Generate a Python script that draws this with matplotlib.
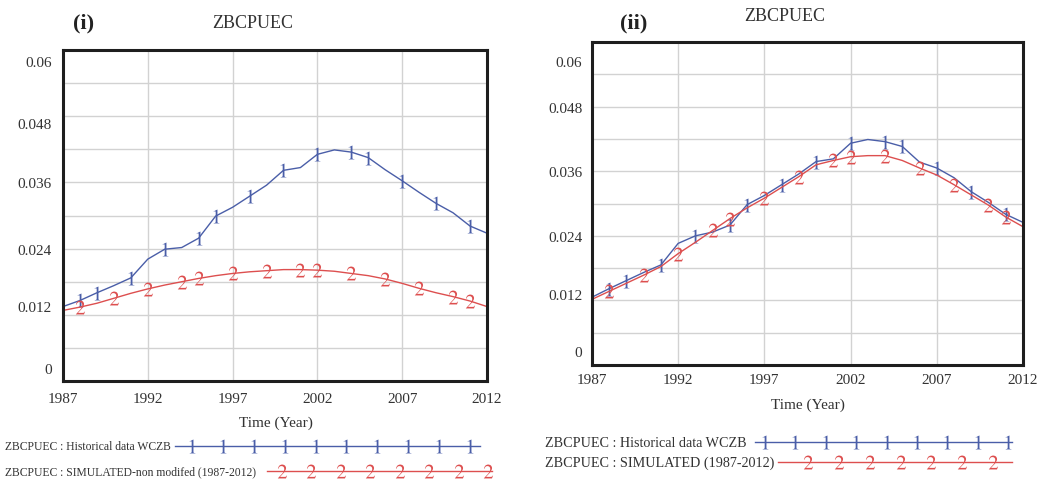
import numpy as np
import matplotlib
matplotlib.use("Agg")
import matplotlib.pyplot as plt
from matplotlib.lines import Line2D
from matplotlib.transforms import ScaledTranslation

plt.rcParams['font.family'] = ['Liberation Serif', 'DejaVu Serif']
plt.rcParams['mathtext.fontset'] = 'stix'

years = np.arange(1987, 2013)

# panel (i)
hist_i = [0.0135, 0.0146, 0.0160, 0.0173, 0.0187, 0.0221, 0.0239, 0.0242, 0.0259, 0.0299,
          0.0315, 0.0335, 0.0355, 0.0382, 0.0387, 0.0411, 0.0419, 0.0415, 0.0405, 0.0383,
          0.0363, 0.0342, 0.0322, 0.0305, 0.0281, 0.0268]
sim_i = [0.0128, 0.0134, 0.0141, 0.0150, 0.0159, 0.0167, 0.0174, 0.0180, 0.0186, 0.0191,
         0.0195, 0.0198, 0.0200, 0.0202, 0.0202, 0.0201, 0.0199, 0.0195, 0.0191, 0.0185,
         0.0177, 0.0168, 0.0160, 0.0153, 0.0145, 0.0135]

# panel (ii)
hist_ii = [0.0126, 0.0142, 0.0157, 0.0172, 0.0186, 0.0226, 0.0240, 0.0247, 0.0260, 0.0298,
           0.0315, 0.0335, 0.0355, 0.0378, 0.0383, 0.0412, 0.0419, 0.0415, 0.0406, 0.0377,
           0.0366, 0.0348, 0.0322, 0.0302, 0.0280, 0.0265]
sim_ii = [0.0122, 0.0137, 0.0152, 0.0167, 0.0183, 0.0207, 0.0228, 0.0250, 0.0272, 0.0292,
          0.0310, 0.0330, 0.0350, 0.0372, 0.0380, 0.0387, 0.0389, 0.0389, 0.0380, 0.0366,
          0.0353, 0.0335, 0.0316, 0.0297, 0.0275, 0.0257]

marks_1 = [1, 2, 4, 6, 8, 9, 11, 13, 15, 17, 18, 20, 22, 24]
marks_2 = [1, 3, 5, 7, 8, 10, 12, 14, 15, 17, 19, 21, 23, 24]

y_ticks = [0.06, 0.048, 0.036, 0.024, 0.012, 0]
y_labels = ['0.06', '0.048', '0.036', '0.024', '0.012', '0']
x_ticks = [1987, 1992, 1997, 2002, 2007, 2012]

blue = '#4a5ea8'
red = '#dd4f4f'
frame = '#1e1e1e'

fig = plt.figure(figsize=(10.52, 4.81), dpi=100)


def panel(rect, hist, sim, tick_fs, xpad, ypad, label_shift):
    ax = fig.add_axes(rect)
    ax.plot(years, hist, color=blue, lw=1.0, marker='$1$', markersize=10,
            markevery=marks_1, markeredgewidth=0)
    ax.plot(years, sim, color=red, lw=1.0, marker='$2$', markersize=10,
            markevery=marks_2, markeredgewidth=0)
    ax.set_xlim(1987, 2012)
    ax.set_ylim(0, 0.06)
    ax.set_xticks(x_ticks)
    ax.set_yticks(y_ticks)
    ax.set_yticklabels(y_labels)
    ax.set_yticks(np.arange(0, 0.0601, 0.006), minor=True)
    ax.grid(True, which='both', color='#d2d2d2', lw=1.0)
    ax.tick_params(which='both', length=0)
    ax.tick_params(axis='x', labelsize=tick_fs, pad=xpad, colors='#333333')
    ax.tick_params(axis='y', labelsize=tick_fs, pad=ypad, colors='#333333')
    # the labels sit a little off the grid lines in the original
    for lab, dy in zip(ax.get_yticklabels(), label_shift):
        lab.set_transform(lab.get_transform() + ScaledTranslation(0, -dy / 100.0, fig.dpi_scale_trans))
    for s in ax.spines.values():
        s.set_color(frame)
        s.set_linewidth(2.2)
    ax.set_axisbelow(True)
    return ax


panel([0.0599, 0.2058, 0.403, 0.688], hist_i, sim_i, 11, 8, 8, [11, 7, 0, 0, -9, -13])
panel([0.5627, 0.239, 0.4097, 0.6715], hist_ii, sim_ii, 11, 6, 7, [19, 0, 0, 0, -6, -14])

# titles
fig.text(0.2405, 0.952, 'ZBCPUEC', ha='center', va='center', fontsize=13, color='#333333')
fig.text(0.079, 0.952, '(i)', ha='center', va='center', fontsize=16, fontweight='bold', color='#222222')
fig.text(0.746, 0.965, 'ZBCPUEC', ha='center', va='center', fontsize=13, color='#333333')
fig.text(0.602, 0.952, '(ii)', ha='center', va='center', fontsize=16, fontweight='bold', color='#222222')

fig.text(0.262, 0.121, 'Time (Year)', ha='center', va='center', fontsize=11, color='#333333')
fig.text(0.768, 0.158, 'Time (Year)', ha='center', va='center', fontsize=11, color='#333333')


def legend_row(x_text, y, label, fs, x0, x1, m0, m1, n, color, glyph):
    fig.text(x_text, y, label, ha='left', va='center', fontsize=fs, color='#333333')
    fig.add_artist(Line2D([x0, x1], [y, y], transform=fig.transFigure, color=color, lw=1.0))
    fig.add_artist(Line2D(np.linspace(m0, m1, n), [y] * n, transform=fig.transFigure,
                          color=color, lw=0, marker=glyph, markersize=10, markeredgewidth=0))


W = 1052.0
legend_row(0.005, 0.071, 'ZBCPUEC : Historical data WCZB', 8.4,
           175 / W, 480 / W, 192 / W, 470 / W, 10, blue, '$1$')
legend_row(0.005, 0.019, 'ZBCPUEC : SIMULATED-non modifed (1987-2012)', 8.4,
           267 / W, 492 / W, 282 / W, 488 / W, 8, red, '$2$')
legend_row(0.518, 0.079, 'ZBCPUEC : Historical data WCZB', 10.2,
           755 / W, 1012 / W, 765 / W, 1008 / W, 9, blue, '$1$')
legend_row(0.518, 0.037, 'ZBCPUEC : SIMULATED (1987-2012)', 10.2,
           778 / W, 1012 / W, 808 / W, 993 / W, 7, red, '$2$')

fig.savefig('out.png', dpi=100)
